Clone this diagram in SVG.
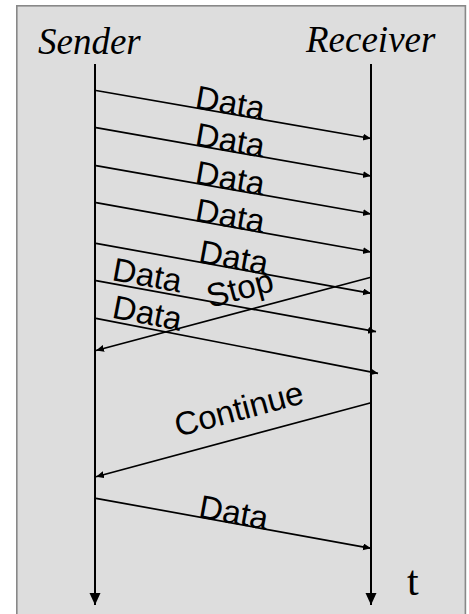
<svg xmlns="http://www.w3.org/2000/svg" width="469" height="614" viewBox="0 0 469 614">
  <defs>
    <marker id="ah" markerUnits="userSpaceOnUse" markerWidth="9" markerHeight="8" refX="8" refY="3.5" orient="auto">
      <path d="M0,0 L8,3.5 L0,7 z" fill="#000"/>
    </marker>
    <marker id="big" markerUnits="userSpaceOnUse" markerWidth="13" markerHeight="12" refX="12" refY="5.5" orient="auto">
      <path d="M0,0 L12,5.5 L0,11 z" fill="#000"/>
    </marker>
  </defs>
  <style>
    .bg { fill: #dddddd; stroke: #888888; stroke-width: 1.6; }
    .life { stroke: #000; stroke-width: 2; fill: none; }
    .msg { stroke: #000; stroke-width: 1.7; fill: none; }
    .head { font-family: "Liberation Serif", "Times New Roman", serif; font-style: italic; font-size: 37px; fill: #000; }
    .lbl { font-family: "Liberation Sans", Arial, sans-serif; font-size: 33px; fill: #000; }
    .t { font-family: "Liberation Serif", "Times New Roman", serif; font-size: 42px; fill: #000; }
  </style>
  <rect class="bg" x="16.8" y="5.8" width="448.6" height="620"/>

  <g id="sender">
    <text class="head" x="38" y="53.5">Sender</text>
    <line class="life" x1="95" y1="64" x2="95" y2="605" marker-end="url(#big)"/>
  </g>
  <g id="receiver">
    <text class="head" x="306" y="52">Receiver</text>
    <line class="life" x1="371" y1="64" x2="371" y2="605" marker-end="url(#big)"/>
    <text class="t" x="407" y="595">t</text>
  </g>

  <g id="connectors">
    <line class="msg" x1="96" y1="90.5" x2="371" y2="138.5" marker-end="url(#ah)"/>
    <line class="msg" x1="96" y1="127.7" x2="371" y2="176" marker-end="url(#ah)"/>
    <line class="msg" x1="96" y1="165.7" x2="371" y2="214" marker-end="url(#ah)"/>
    <line class="msg" x1="96" y1="202.7" x2="371" y2="252" marker-end="url(#ah)"/>
    <line class="msg" x1="96" y1="243.3" x2="371" y2="293.3" marker-end="url(#ah)"/>
    <line class="msg" x1="96" y1="280.7" x2="376" y2="331.7" marker-end="url(#ah)"/>
    <line class="msg" x1="96" y1="318.3" x2="378" y2="373.3" marker-end="url(#ah)"/>
    <line class="msg" x1="371" y1="277.3" x2="96" y2="350.5" marker-end="url(#ah)"/>
    <line class="msg" x1="371" y1="402.7" x2="96" y2="476.7" marker-end="url(#ah)"/>
    <line class="msg" x1="96" y1="498.3" x2="371" y2="548.3" marker-end="url(#ah)"/>

    <text class="lbl" transform="translate(194,108) rotate(9.9)">Data</text>
    <text class="lbl" transform="translate(194,145.3) rotate(9.96)">Data</text>
    <text class="lbl" transform="translate(194,183.3) rotate(9.96)">Data</text>
    <text class="lbl" transform="translate(194,220.7) rotate(10.16)">Data</text>
    <text class="lbl" transform="translate(197.5,262.2) rotate(10.3)">Data</text>
    <text class="lbl" transform="translate(111,280) rotate(10.3)">Data</text>
    <text class="lbl" transform="translate(111,317.5) rotate(11)">Data</text>
    <text class="lbl" transform="translate(210,308) rotate(-15)">Stop</text>
    <text class="lbl" transform="translate(178,437) rotate(-15)">Continue</text>
    <text class="lbl" transform="translate(197.5,517.2) rotate(10.3)">Data</text>
  </g>
</svg>
